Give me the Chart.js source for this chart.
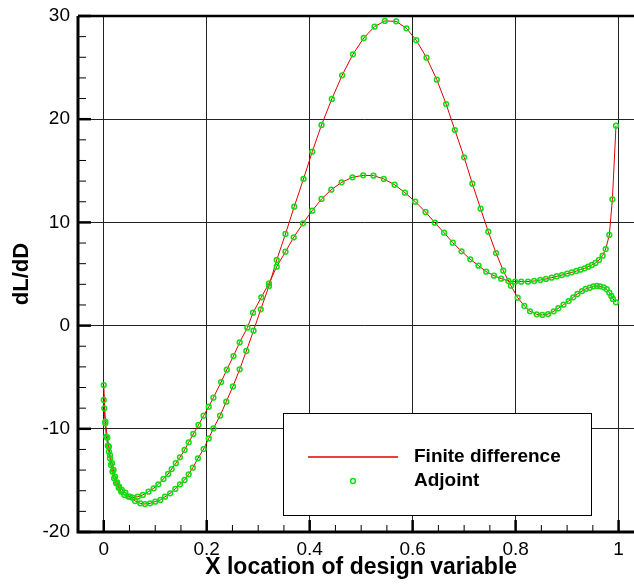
<!DOCTYPE html>
<html>
<head>
<meta charset="utf-8">
<script src="https://cdn.jsdelivr.net/npm/chart.js@4"></script>
<style>
  html, body { margin: 0; padding: 0; background: #fff; overflow: hidden; }
  #wrap { width: 634px; height: 584px; overflow: hidden; }
</style>
</head>
<body>
<!-- the plot frame runs past the right edge of the picture, so the canvas is a bit wider than the window -->
<div id="wrap"><canvas id="chart" width="656" height="584"></canvas></div>
<script>
// Design variable locations and sensitivities.
// Finite difference and adjoint values coincide, so each case uses one array for both.
const xCase1 = [0.000, 0.003, 0.007, 0.010, 0.012, 0.016, 0.019, 0.022, 0.026, 0.030,
    0.035, 0.042, 0.051, 0.061, 0.071, 0.080, 0.090, 0.100, 0.110, 0.119,
    0.129, 0.139, 0.148, 0.157, 0.165, 0.173, 0.183, 0.194, 0.204, 0.213,
    0.226, 0.238, 0.251, 0.264, 0.277, 0.291, 0.305, 0.321, 0.336, 0.353,
    0.370, 0.388, 0.405, 0.423, 0.443, 0.463, 0.484, 0.505, 0.526, 0.546,
    0.568, 0.588, 0.607, 0.627, 0.647, 0.665, 0.682, 0.700, 0.716, 0.732,
    0.747, 0.762, 0.776, 0.791, 0.804, 0.817, 0.828, 0.841, 0.852, 0.863,
    0.874, 0.883, 0.893, 0.903, 0.912, 0.920, 0.929, 0.936, 0.944, 0.951,
    0.958, 0.964, 0.971, 0.977, 0.982, 0.986, 0.989, 0.995];
const dldCase1 = [-5.76, -9.3, -10.86, -11.73, -12.54, -13.34, -13.99, -14.64, -15.19, -15.61,
    -15.93, -16.19, -16.58, -17.00, -17.22, -17.29, -17.22, -17.06, -16.89, -16.58,
    -16.25, -15.83, -15.38, -14.96, -14.41, -13.77, -12.86, -11.96, -10.93, -9.96,
    -8.73, -7.37, -5.89, -4.24, -2.46, -0.49, 1.58, 3.84, 6.36, 8.88,
    11.52, 14.21, 16.85, 19.44, 21.96, 24.25, 26.29, 27.87, 28.97, 29.52,
    29.48, 28.81, 27.65, 25.96, 23.83, 21.47, 18.95, 16.31, 13.75, 11.33,
    9.10, 7.03, 5.32, 3.87, 2.71, 1.90, 1.38, 1.09, 1.03, 1.12,
    1.38, 1.68, 2.03, 2.38, 2.74, 3.06, 3.35, 3.55, 3.67, 3.81,
    3.84, 3.81, 3.71, 3.52, 3.19, 2.87, 2.58, 2.26];

const xCase2 = [0.000, 0.001, 0.003, 0.005, 0.008, 0.010, 0.012, 0.014, 0.017, 0.020,
    0.024, 0.029, 0.034, 0.040, 0.048, 0.056, 0.066, 0.076, 0.087, 0.097,
    0.106, 0.116, 0.125, 0.132, 0.140, 0.148, 0.157, 0.165, 0.174, 0.184,
    0.194, 0.204, 0.213, 0.228, 0.239, 0.252, 0.264, 0.279, 0.290, 0.306,
    0.321, 0.336, 0.353, 0.369, 0.387, 0.405, 0.423, 0.442, 0.462, 0.483,
    0.504, 0.524, 0.544, 0.565, 0.585, 0.605, 0.625, 0.643, 0.661, 0.678,
    0.695, 0.712, 0.728, 0.743, 0.758, 0.772, 0.786, 0.799, 0.811, 0.824,
    0.836, 0.848, 0.859, 0.870, 0.880, 0.890, 0.900, 0.909, 0.918, 0.926,
    0.934, 0.941, 0.948, 0.955, 0.962, 0.969, 0.975, 0.982, 0.988, 0.995];
const dldCase2 = [-7.21, -8.02, -9.47, -10.76, -11.64, -12.22, -12.86, -13.51, -14.15, -14.80,
    -15.28, -15.71, -16.09, -16.41, -16.58, -16.67, -16.58, -16.41, -16.09, -15.77,
    -15.38, -14.86, -14.38, -13.90, -13.34, -12.76, -12.05, -11.31, -10.50, -9.63,
    -8.73, -7.86, -6.98, -5.47, -4.27, -2.95, -1.62, -0.20, 1.25, 2.74,
    4.10, 5.71, 7.16, 8.55, 9.91, 11.14, 12.27, 13.17, 13.88, 14.37,
    14.56, 14.53, 14.21, 13.65, 12.88, 12.01, 11.01, 9.97, 9.00, 8.03,
    7.20, 6.42, 5.81, 5.23, 4.84, 4.55, 4.32, 4.26, 4.26, 4.26,
    4.32, 4.42, 4.52, 4.64, 4.78, 4.90, 5.03, 5.16, 5.29, 5.42,
    5.55, 5.71, 5.87, 6.07, 6.36, 6.78, 7.42, 8.78, 12.24, 19.37];

const seriesNames = ['Finite difference', 'Adjoint'];
const xLabelStep = 0.2;
const yLabelStep = 10;

const FONT = "'Liberation Sans', Arial, sans-serif";
const RED = '#e00000';
const GREEN = '#11dd11';

function pairs(xs, ys) {
    return xs.map(function(x, i) { return {x: x, y: ys[i]}; });
}

function onStep(v, step) {
    const r = v / step;
    return Math.abs(r - Math.round(r)) < 1e-6;
}

function lineSet(xs, ys) {
    return {
        label: seriesNames[0],
        data: pairs(xs, ys),
        showLine: true,
        borderColor: RED,
        borderWidth: 1,
        pointRadius: 0,
        tension: 0,
        fill: false,
        order: 1
    };
}

function pointSet(xs, ys) {
    return {
        label: seriesNames[1],
        data: pairs(xs, ys),
        showLine: false,
        pointStyle: 'circle',
        pointRadius: 2.4,
        pointBorderWidth: 1.5,
        pointBorderColor: GREEN,
        pointBackgroundColor: 'rgba(0,0,0,0)',
        order: 0
    };
}

// the frame is fixed, so drop the label overflow padding Chart.js adds
function noPad(scale) {
    scale.paddingTop = 0;
    scale.paddingBottom = 0;
    scale.paddingLeft = 0;
    scale.paddingRight = 0;
}

// Inward tick marks, heavy axes, axis titles and the boxed legend.
const framePlugin = {
    id: 'frame',
    afterDatasetsDraw: function(chart) {
        const ctx = chart.ctx;
        const a = chart.chartArea;
        const xs = chart.scales.x;
        const ys = chart.scales.y;
        ctx.save();
        ctx.strokeStyle = '#000';

        xs.ticks.forEach(function(t) {
            if (t.value < 0) {
                return;
            }
            const px = xs.getPixelForValue(t.value);
            const major = onStep(t.value, xLabelStep);
            ctx.lineWidth = major ? 2.5 : 1;
            ctx.beginPath();
            ctx.moveTo(px, a.bottom);
            ctx.lineTo(px, a.bottom - (major ? 12 : 7));
            ctx.stroke();
        });
        ys.ticks.forEach(function(t) {
            const py = ys.getPixelForValue(t.value);
            const major = onStep(t.value, yLabelStep);
            ctx.lineWidth = major ? 2.5 : 1;
            ctx.beginPath();
            ctx.moveTo(a.left, py);
            ctx.lineTo(a.left + (major ? 13 : 8), py);
            ctx.stroke();
        });

        ctx.lineWidth = 3;
        ctx.beginPath();
        ctx.moveTo(a.left, a.top);
        ctx.lineTo(a.left, a.bottom);
        ctx.lineTo(a.right, a.bottom);
        ctx.stroke();
        ctx.lineWidth = 2.5;
        ctx.beginPath();
        ctx.moveTo(a.left, a.top);
        ctx.lineTo(a.right, a.top);
        ctx.stroke();

        // axis titles
        ctx.fillStyle = '#000';
        ctx.font = 'bold 23px ' + FONT;
        ctx.textAlign = 'center';
        ctx.textBaseline = 'middle';
        ctx.fillText('X location of design variable', xs.getPixelForValue(0.5), 568);
        ctx.save();
        ctx.translate(22, (a.top + a.bottom) / 2);
        ctx.rotate(-Math.PI / 2);
        ctx.font = 'bold 22px ' + FONT;
        ctx.fillText('dL/dD', 0, 0);
        ctx.restore();

        // legend box
        const lx = 283, ly = 413, lw = 308, lh = 102;
        ctx.fillStyle = '#fff';
        ctx.fillRect(lx, ly, lw, lh);
        ctx.lineWidth = 1;
        ctx.strokeStyle = '#000';
        ctx.strokeRect(lx + 0.5, ly + 0.5, lw, lh);

        const fd = chart.data.datasets[0];
        const adj = chart.data.datasets[2];
        ctx.strokeStyle = fd.borderColor;
        ctx.lineWidth = 1.5;
        ctx.beginPath();
        ctx.moveTo(308, 457);
        ctx.lineTo(398, 457);
        ctx.stroke();
        ctx.strokeStyle = adj.pointBorderColor;
        ctx.lineWidth = adj.pointBorderWidth;
        ctx.beginPath();
        ctx.arc(353, 481, adj.pointRadius, 0, Math.PI * 2);
        ctx.stroke();

        ctx.fillStyle = '#000';
        ctx.font = 'bold 19px ' + FONT;
        ctx.textAlign = 'left';
        ctx.fillText(fd.label, 414, 457);
        ctx.fillText(adj.label, 414, 481);
        ctx.restore();
    }
};

Chart.defaults.font.family = FONT;
Chart.defaults.color = '#000';

new Chart(document.getElementById('chart'), {
    type: 'scatter',
    data: {
        datasets: [
            lineSet(xCase1, dldCase1),
            lineSet(xCase2, dldCase2),
            pointSet(xCase1, dldCase1),
            pointSet(xCase2, dldCase2)
        ]
    },
    options: {
        responsive: false,
        animation: false,
        events: [],
        layout: {padding: {top: 16, left: 0, right: 0, bottom: 0}},
        plugins: {
            legend: {display: false},
            tooltip: {enabled: false}
        },
        scales: {
            x: {
                type: 'linear',
                min: -0.05,
                max: 1.062,
                afterFit: function(scale) { scale.height = 52; noPad(scale); },
                border: {display: false},
                grid: {
                    drawTicks: false,
                    lineWidth: 1,
                    color: function(c) {
                        return c.tick && onStep(c.tick.value, xLabelStep) ? '#222' : 'rgba(0,0,0,0)';
                    }
                },
                ticks: {
                    stepSize: 0.05,
                    includeBounds: false,
                    autoSkip: false,
                    maxRotation: 0,
                    padding: 6,
                    font: {size: 19},
                    callback: function(v) {
                        return onStep(v, xLabelStep) ? String(Math.round(v * 10) / 10) : '';
                    }
                }
            },
            y: {
                type: 'linear',
                min: -20,
                max: 30,
                afterFit: function(scale) { scale.width = 78; noPad(scale); },
                border: {display: false},
                grid: {
                    drawTicks: false,
                    lineWidth: 1,
                    color: function(c) {
                        return c.tick && onStep(c.tick.value, yLabelStep) ? '#222' : 'rgba(0,0,0,0)';
                    }
                },
                ticks: {
                    stepSize: 2,
                    autoSkip: false,
                    padding: 8,
                    font: {size: 19},
                    callback: function(v) {
                        return onStep(v, yLabelStep) ? String(Math.round(v)) : '';
                    }
                }
            }
        }
    },
    plugins: [framePlugin]
});
</script>
</body>
</html>
